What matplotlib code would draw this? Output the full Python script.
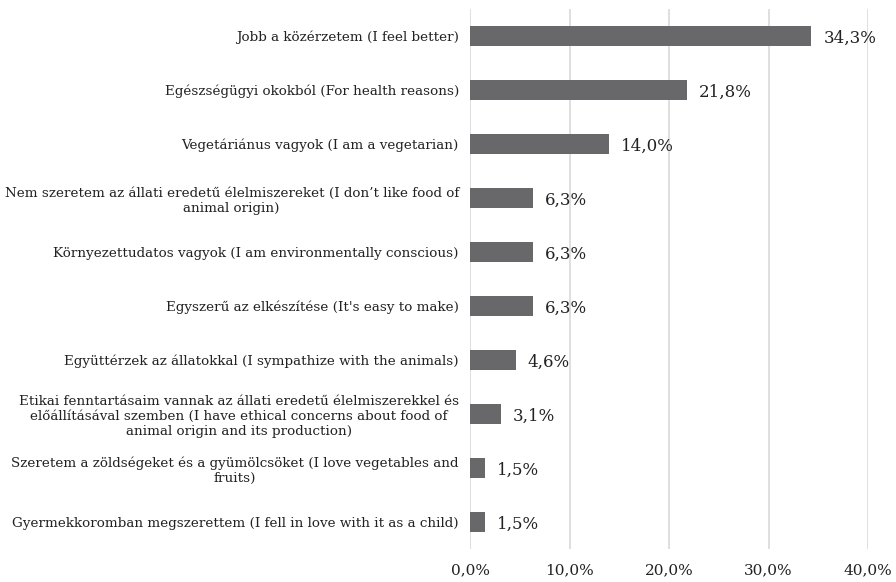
import matplotlib.pyplot as plt
import numpy as np

# Adatok
labels = [
    "Jobb a közérzetem (I feel better)",
    "Egészségügyi okokból (For health reasons)",
    "Vegetáriánus vagyok (I am a vegetarian)",
    "Nem szeretem az állati eredetű élelmiszereket (I don’t like food of\nanimal origin)",
    "Környezettudatos vagyok (I am environmentally conscious)",
    "Egyszerű az elkészítése (It's easy to make)",
    "Együttérzek az állatokkal (I sympathize with the animals)",
    "Etikai fenntartásaim vannak az állati eredetű élelmiszerekkel és\nelőállításával szemben (I have ethical concerns about food of\nanimal origin and its production)",
    "Szeretem a zöldségeket és a gyümölcsöket (I love vegetables and\nfruits)",
    "Gyermekkoromban megszerettem (I fell in love with it as a child)",
]
values = [34.3, 21.8, 14.0, 6.3, 6.3, 6.3, 4.6, 3.1, 1.5, 1.5]
xticks = [0, 10, 20, 30, 40]

plt.rcParams['font.family'] = ['DejaVu Serif']

fig = plt.figure(figsize=(8.96, 5.82), dpi=100)
ax = fig.add_axes([0.5246, 0.0567, 0.4442, 0.9278])

y = np.arange(len(values))
ax.barh(y, values, height=0.37, color='#68686b', zorder=3)
ax.set_ylim(len(values) - 0.5, -0.5)
ax.set_xlim(0, 40)

for yi, v in zip(y, values):
    ax.text(v + 1.2, yi + 0.05, f"{v:.1f}%".replace('.', ','), va='center', ha='left',
            fontsize=12, color='#222222')

ax.set_yticks(y)
ax.set_yticklabels(labels, fontsize=9.7, color='#222222', multialignment='center')
ax.set_xticks(xticks)
ax.set_xticklabels([f"{t:.1f}%".replace('.', ',') for t in xticks], fontsize=11, color='#222222')
ax.tick_params(axis='both', length=0)
ax.tick_params(axis='y', pad=8)
ax.tick_params(axis='x', pad=10)

ax.grid(axis='x', color='#d9d9d9', linewidth=1.2, zorder=0)
for s in ax.spines.values():
    s.set_visible(False)

fig.savefig('out.png', dpi=100)
